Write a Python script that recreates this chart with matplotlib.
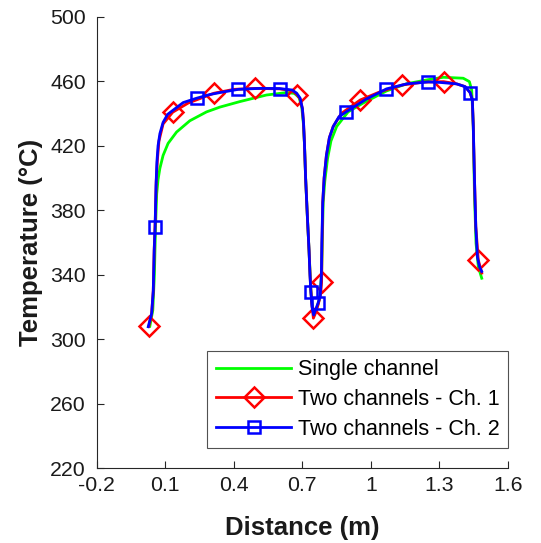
import matplotlib
matplotlib.use("Agg")
import matplotlib.pyplot as plt

plt.rcParams['font.family'] = ['Liberation Sans', 'DejaVu Sans']

# single channel profile
single_x = [0.032, 0.045, 0.052, 0.057, 0.062, 0.068, 0.076, 0.090, 0.112, 0.149, 0.207,
            0.280, 0.339, 0.426, 0.543, 0.631, 0.665, 0.685, 0.697, 0.704, 0.709, 0.714,
            0.722, 0.729, 0.737, 0.745, 0.751, 0.760, 0.775, 0.784, 0.787, 0.791, 0.798,
            0.810, 0.825, 0.850, 0.900, 0.966, 1.068, 1.157, 1.250, 1.317, 1.404, 1.431,
            1.441, 1.448, 1.453, 1.460, 1.470, 1.485]
single_y = [308, 318, 340, 370, 390, 399, 406, 414, 421.5, 428.5, 435.5,
            441, 444, 447.4, 451.5, 453, 452.5, 450, 444, 434, 421, 400,
            375, 355, 330, 318, 315, 318, 325, 340, 360, 385, 398,
            412, 423, 432, 441, 446.5, 454, 458.5, 461, 462.5, 461.9, 459.8,
            454.6, 432, 391, 359.5, 345, 337.8]

# two channels, channel 1
ch1_x = [0.028, 0.040, 0.047, 0.051, 0.056, 0.060, 0.065, 0.072, 0.090, 0.132, 0.200,
         0.313, 0.400, 0.494, 0.600, 0.655, 0.675, 0.690, 0.700, 0.705, 0.709, 0.714,
         0.722, 0.729, 0.735, 0.741, 0.748, 0.757, 0.770, 0.780, 0.784, 0.786, 0.789,
         0.795, 0.805, 0.818, 0.835, 0.870, 0.953, 1.040, 1.137, 1.230, 1.318, 1.375,
         1.412, 1.434, 1.444, 1.448, 1.453, 1.459, 1.470, 1.485]
ch1_y = [308, 316, 330, 355, 375, 398, 411, 423, 433.5, 440.8, 446.5,
         452.6, 455, 455.6, 455.3, 454.2, 451.8, 449, 443, 434, 421, 400,
         375, 355, 335, 322, 313, 316, 322, 328, 335.6, 360, 385,
         400, 414, 425, 432, 440, 448.4, 453.5, 457.7, 459.5, 459.8, 458.4,
         456.7, 453, 448.4, 432, 401, 370, 349.1, 341]
ch1_marks = [0, 9, 11, 13, 16, 26, 30, 38, 40, 42, 50]

# two channels, channel 2
ch2_x = [0.025, 0.040, 0.047, 0.051, 0.055, 0.059, 0.063, 0.068, 0.076, 0.090, 0.110,
         0.178, 0.237, 0.295, 0.339, 0.419, 0.514, 0.600, 0.655, 0.675, 0.690, 0.700,
         0.705, 0.709, 0.714, 0.722, 0.729, 0.733, 0.737, 0.742, 0.749, 0.757, 0.769,
         0.778, 0.783, 0.785, 0.789, 0.795, 0.805, 0.818, 0.835, 0.860, 0.889, 0.930,
         0.980, 1.030, 1.068, 1.157, 1.251, 1.302, 1.375, 1.412, 1.434, 1.444, 1.448,
         1.453, 1.459, 1.466, 1.475, 1.485]
ch2_y = [307.7, 316, 330, 355, 369.6, 395, 410, 420, 427.5, 434.5, 439.5,
         446.8, 449.5, 451.8, 453, 455, 455.6, 455.5, 454.6, 452.6, 449.5, 443,
         434, 421, 400, 375, 355, 340, 329.2, 320, 315, 318, 322.6,
         327, 340, 360, 385, 400, 414, 425, 432, 438, 440.8, 444.5,
         449, 452.5, 455.3, 458.4, 459.6, 459.3, 458.4, 456.7, 453, 448.4, 432,
         401, 370, 351, 345, 342]
ch2_marks = [4, 12, 15, 17, 28, 32, 42, 46, 48, 52]

xticks = [-0.2, 0.1, 0.4, 0.7, 1, 1.3, 1.6]
xticklabels = ['-0.2', '0.1', '0.4', '0.7', '1', '1.3', '1.6']
yticks = [220, 260, 300, 340, 380, 420, 460, 500]

fig = plt.figure(figsize=(5.41, 5.43), dpi=100)
ax = fig.add_axes([0.179, 0.138, 0.760, 0.831])

ax.plot(single_x, single_y, color='#00ff00', lw=2, label='Single channel')
ax.plot(ch1_x, ch1_y, color='#ff0000', lw=2, marker='D', markersize=10,
        markerfacecolor='none', markeredgewidth=1.8, markevery=ch1_marks,
        label='Two channels - Ch. 1')
ax.plot(ch2_x, ch2_y, color='#0000ff', lw=2, marker='s', markersize=8.5,
        markerfacecolor='none', markeredgewidth=1.8, markevery=ch2_marks,
        label='Two channels - Ch. 2')

ax.set_xlim(-0.2, 1.6)
ax.set_ylim(220, 500)
ax.set_xticks(xticks)
ax.set_xticklabels(xticklabels)
ax.set_yticks(yticks)

for side in ['top', 'right']:
    ax.spines[side].set_visible(False)
for side in ['left', 'bottom']:
    ax.spines[side].set_color('#262626')
    ax.spines[side].set_linewidth(0.8)
ax.tick_params(direction='in', length=5, width=0.8, colors='#262626',
               labelsize=15.3, labelcolor='#1a1a1a')
ax.tick_params(axis='x', pad=6)
ax.tick_params(axis='y', pad=8)

ax.set_xlabel('Distance (m)', fontsize=18.5, fontweight='bold', color='#1a1a1a', labelpad=15)
ax.set_ylabel('Temperature (°C)', fontsize=18.5, fontweight='bold', color='#1a1a1a', labelpad=5)

leg = ax.legend(loc='lower right', bbox_to_anchor=(1.0, 0.044), fontsize=15.5,
                frameon=True, fancybox=False, edgecolor='#262626', handlelength=3.5,
                borderpad=0.4, labelspacing=0.4, handletextpad=0.3, borderaxespad=0)
leg.get_frame().set_linewidth(0.8)

fig.savefig('out.png', dpi=100)
